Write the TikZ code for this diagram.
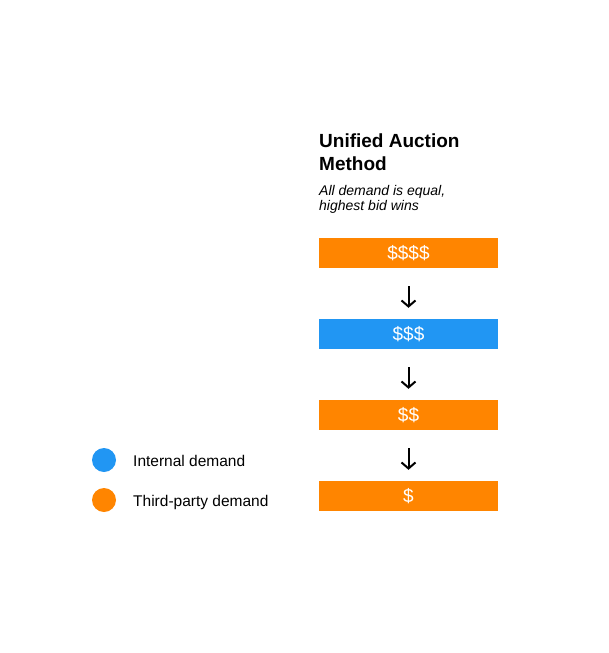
\documentclass[tikz,border=0pt]{standalone}
\usepackage{fontspec}
\setmainfont{Liberation Sans}
\usetikzlibrary{arrows.meta}
\definecolor{thirdorange}{RGB}{255,133,0}
\definecolor{internalblue}{RGB}{33,150,243}
\tikzset{
  pricebar/.style={minimum width=179pt, minimum height=30pt, inner sep=0pt,
    text=white, font=\fontsize{19}{19}\selectfont},
  legenddot/.style={circle, minimum size=24pt, inner sep=0pt},
  legendtext/.style={anchor=base west, inner sep=0pt, font=\fontsize{15.5}{15.5}\selectfont},
  downarrow/.style={-{Straight Barb[length=6pt,width=14pt]}, line width=2pt}
}
\def\orangebar{\node[pricebar,fill=thirdorange]}
\def\bluebar{\node[pricebar,fill=internalblue]}

\begin{document}
\begin{tikzpicture}[x=1pt,y=-1pt]
\useasboundingbox (0,0) rectangle (608,653);
% heading
\node[anchor=base west, inner sep=0pt, font=\bfseries\fontsize{19}{19}\selectfont] (title) at (319,147) {Unified Auction};
\node[anchor=base west, inner sep=0pt, font=\bfseries\fontsize{19}{19}\selectfont] (title2) at (319,170) {Method};
\node[anchor=base west, inner sep=0pt, font=\itshape\fontsize{14}{14}\selectfont] (sub) at (319,195) {All demand is equal,};
\node[anchor=base west, inner sep=0pt, font=\itshape\fontsize{14}{14}\selectfont] (sub2) at (319,210) {highest bid wins};
% bids
\orangebar (four) at (408.5,253) {\$\$\$\$};
\bluebar (three) at (408.5,334) {\$\$\$};
\orangebar (two) at (408.5,415) {\$\$};
\orangebar (one) at (408.5,496) {\$};
\draw[downarrow] ([yshift=-18]four.south) -- ([yshift=11]three.north);
\draw[downarrow] ([yshift=-18]three.south) -- ([yshift=11]two.north);
\draw[downarrow] ([yshift=-18]two.south) -- ([yshift=11]one.north);
% legend
\node[legenddot,fill=internalblue] (internal) at (104,460) {};
\node[legenddot,fill=thirdorange] (third) at (104,500) {};
\node[legendtext] (internaltext) at (133,466) {Internal demand};
\node[legendtext] (thirdtext) at (133,506) {Third-party demand};
\end{tikzpicture}
\end{document}
